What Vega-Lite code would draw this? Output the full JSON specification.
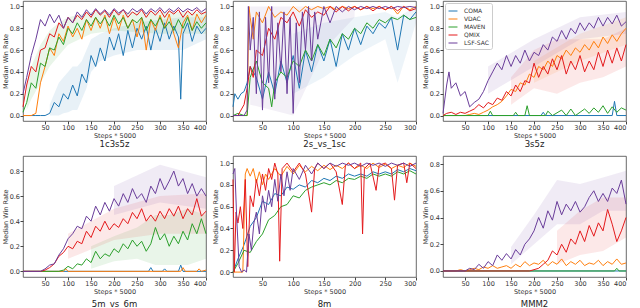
{
"$schema":"https://vega.github.io/schema/vega-lite/v6.json",
"padding":{"left":1,"top":0,"right":2,"bottom":0},
"config":{"font":"DejaVu Sans","view":{"stroke":"#444","strokeWidth":0.8},
"axis":{"labelFontSize":6.5,"titleFontSize":6.5,"labelColor":"#333","titleColor":"#333","tickSize":3,"tickColor":"#444","domain":false,"grid":false,"titleFontWeight":"normal","labelPadding":0.5,"titlePadding":1},
"title":{"fontSize":8.5,"fontWeight":"normal","color":"#222"},
"line":{"strokeWidth":1,"clip":true},"area":{"clip":true,"opacity":0.1}},
"columns":3,
"spacing":{"column":2,"row":6},
"resolve":{"legend":{"color":"independent"}},
"datasets":{
"b1":[
{"s":"COMA","x":60,"y":0,"hi":0.1},{"s":"COMA","x":70,"y":0,"hi":0.2},{"s":"COMA","x":80,"y":0,"hi":0.3},{"s":"COMA","x":90,"y":0.02,"hi":0.35},{"s":"COMA","x":100,"y":0.03,"hi":0.4},{"s":"COMA","x":110,"y":0.05,"hi":0.45},{"s":"COMA","x":120,"y":0.05,"hi":0.45},{"s":"COMA","x":130,"y":0.15,"hi":0.5},{"s":"COMA","x":140,"y":0.25,"hi":0.6},{"s":"COMA","x":150,"y":0.4,"hi":0.7},{"s":"COMA","x":170,"y":0.5,"hi":0.75},{"s":"COMA","x":200,"y":0.55,"hi":0.8},{"s":"COMA","x":250,"y":0.6,"hi":0.85},{"s":"COMA","x":300,"y":0.6,"hi":0.88},{"s":"COMA","x":350,"y":0.6,"hi":0.9},{"s":"COMA","x":400,"y":0.7,"hi":0.9},
{"s":"MAVEN","x":10,"y":0.05,"hi":0.3},{"s":"MAVEN","x":20,"y":0.15,"hi":0.45},{"s":"MAVEN","x":40,"y":0.3,"hi":0.65},{"s":"MAVEN","x":60,"y":0.45,"hi":0.78},{"s":"MAVEN","x":80,"y":0.55,"hi":0.85},{"s":"MAVEN","x":100,"y":0.65,"hi":0.9},{"s":"MAVEN","x":150,"y":0.75,"hi":0.95},{"s":"MAVEN","x":200,"y":0.78,"hi":0.95},{"s":"MAVEN","x":300,"y":0.75,"hi":0.95},{"s":"MAVEN","x":400,"y":0.75,"hi":0.95}
],
"b2":[
{"s":"COMA","x":100,"y":0.2,"hi":0.75},{"s":"COMA","x":150,"y":0.35,"hi":0.85},{"s":"COMA","x":200,"y":0.55,"hi":0.9},{"s":"COMA","x":250,"y":0.7,"hi":0.95},{"s":"COMA","x":270,"y":0.3,"hi":0.9},{"s":"COMA","x":300,"y":0.85,"hi":1.0},
{"s":"LSF-SAC","x":30,"y":0.1,"hi":1.0},{"s":"LSF-SAC","x":100,"y":0.0,"hi":1.0},{"s":"LSF-SAC","x":150,"y":0.6,"hi":1.0},{"s":"LSF-SAC","x":200,"y":0.9,"hi":1.0}
],
"b3":[
{"s":"VDAC","x":200,"y":0.3,"hi":0.5},{"s":"VDAC","x":300,"y":0.5,"hi":0.75},{"s":"VDAC","x":400,"y":0.65,"hi":0.9},
{"s":"QMIX","x":150,"y":0.1,"hi":0.35},{"s":"QMIX","x":200,"y":0.25,"hi":0.6},{"s":"QMIX","x":250,"y":0.2,"hi":0.7},{"s":"QMIX","x":300,"y":0.3,"hi":0.7},{"s":"QMIX","x":350,"y":0.35,"hi":0.7},{"s":"QMIX","x":400,"y":0.45,"hi":0.8},
{"s":"LSF-SAC","x":100,"y":0.2,"hi":0.45},{"s":"LSF-SAC","x":200,"y":0.45,"hi":0.7},{"s":"LSF-SAC","x":300,"y":0.7,"hi":0.9},{"s":"LSF-SAC","x":400,"y":0.75,"hi":0.95}
],
"b4":[
{"s":"MAVEN","x":150,"y":0.02,"hi":0.2},{"s":"MAVEN","x":200,"y":0.08,"hi":0.28},{"s":"MAVEN","x":250,"y":0.1,"hi":0.35},{"s":"MAVEN","x":290,"y":0.05,"hi":0.45},{"s":"MAVEN","x":320,"y":0.05,"hi":0.45},{"s":"MAVEN","x":360,"y":0.05,"hi":0.5},{"s":"MAVEN","x":400,"y":0.1,"hi":0.45},
{"s":"QMIX","x":100,"y":0.1,"hi":0.3},{"s":"QMIX","x":200,"y":0.25,"hi":0.5},{"s":"QMIX","x":300,"y":0.3,"hi":0.6},{"s":"QMIX","x":400,"y":0.3,"hi":0.62},
{"s":"LSF-SAC","x":200,"y":0.45,"hi":0.68},{"s":"LSF-SAC","x":300,"y":0.55,"hi":0.85},{"s":"LSF-SAC","x":400,"y":0.5,"hi":0.75}
],
"b6":[
{"s":"QMIX","x":250,"y":0.05,"hi":0.3},{"s":"QMIX","x":300,"y":0.12,"hi":0.45},{"s":"QMIX","x":350,"y":0.15,"hi":0.55},{"s":"QMIX","x":400,"y":0.25,"hi":0.55},
{"s":"LSF-SAC","x":150,"y":0.05,"hi":0.18},{"s":"LSF-SAC","x":200,"y":0.2,"hi":0.42},{"s":"LSF-SAC","x":250,"y":0.35,"hi":0.68},{"s":"LSF-SAC","x":300,"y":0.35,"hi":0.65},{"s":"LSF-SAC","x":350,"y":0.45,"hi":0.7},{"s":"LSF-SAC","x":400,"y":0.45,"hi":0.75}
],
"p1":[
{"s":"COMA","x":2,"y":0},{"s":"COMA","x":10,"y":0},{"s":"COMA","x":20,"y":0},{"s":"COMA","x":30,"y":0},{"s":"COMA","x":40,"y":0},{"s":"COMA","x":50,"y":0},{"s":"COMA","x":60,"y":0.02},{"s":"COMA","x":70,"y":0.12},{"s":"COMA","x":80,"y":0.08},{"s":"COMA","x":90,"y":0.2},{"s":"COMA","x":100,"y":0.15},{"s":"COMA","x":110,"y":0.28},{"s":"COMA","x":120,"y":0.18},{"s":"COMA","x":130,"y":0.38},{"s":"COMA","x":140,"y":0.3},{"s":"COMA","x":150,"y":0.55},{"s":"COMA","x":160,"y":0.45},{"s":"COMA","x":170,"y":0.62},{"s":"COMA","x":180,"y":0.5},{"s":"COMA","x":190,"y":0.72},{"s":"COMA","x":200,"y":0.6},{"s":"COMA","x":210,"y":0.75},{"s":"COMA","x":220,"y":0.55},{"s":"COMA","x":230,"y":0.78},{"s":"COMA","x":240,"y":0.62},{"s":"COMA","x":250,"y":0.8},{"s":"COMA","x":260,"y":0.7},{"s":"COMA","x":270,"y":0.82},{"s":"COMA","x":280,"y":0.6},{"s":"COMA","x":290,"y":0.8},{"s":"COMA","x":300,"y":0.68},{"s":"COMA","x":310,"y":0.85},{"s":"COMA","x":320,"y":0.7},{"s":"COMA","x":330,"y":0.82},{"s":"COMA","x":340,"y":0.72},{"s":"COMA","x":345,"y":0.15},{"s":"COMA","x":350,"y":0.75},{"s":"COMA","x":360,"y":0.85},{"s":"COMA","x":370,"y":0.68},{"s":"COMA","x":380,"y":0.82},{"s":"COMA","x":390,"y":0.75},{"s":"COMA","x":400,"y":0.8},
{"s":"VDAC","x":2,"y":0},{"s":"VDAC","x":10,"y":0},{"s":"VDAC","x":20,"y":0},{"s":"VDAC","x":30,"y":0.02},{"s":"VDAC","x":40,"y":0.3},{"s":"VDAC","x":50,"y":0.45},{"s":"VDAC","x":60,"y":0.62},{"s":"VDAC","x":70,"y":0.55},{"s":"VDAC","x":80,"y":0.75},{"s":"VDAC","x":90,"y":0.68},{"s":"VDAC","x":100,"y":0.82},{"s":"VDAC","x":110,"y":0.72},{"s":"VDAC","x":120,"y":0.8},{"s":"VDAC","x":130,"y":0.7},{"s":"VDAC","x":140,"y":0.88},{"s":"VDAC","x":150,"y":0.78},{"s":"VDAC","x":160,"y":0.9},{"s":"VDAC","x":170,"y":0.8},{"s":"VDAC","x":180,"y":0.92},{"s":"VDAC","x":190,"y":0.75},{"s":"VDAC","x":200,"y":0.9},{"s":"VDAC","x":210,"y":0.78},{"s":"VDAC","x":220,"y":0.92},{"s":"VDAC","x":230,"y":0.8},{"s":"VDAC","x":240,"y":0.88},{"s":"VDAC","x":250,"y":0.72},{"s":"VDAC","x":260,"y":0.9},{"s":"VDAC","x":270,"y":0.6},{"s":"VDAC","x":280,"y":0.88},{"s":"VDAC","x":290,"y":0.78},{"s":"VDAC","x":300,"y":0.92},{"s":"VDAC","x":310,"y":0.8},{"s":"VDAC","x":320,"y":0.93},{"s":"VDAC","x":330,"y":0.75},{"s":"VDAC","x":340,"y":0.62},{"s":"VDAC","x":350,"y":0.85},{"s":"VDAC","x":360,"y":0.92},{"s":"VDAC","x":370,"y":0.78},{"s":"VDAC","x":380,"y":0.93},{"s":"VDAC","x":390,"y":0.85},{"s":"VDAC","x":400,"y":0.92},
{"s":"MAVEN","x":2,"y":0.03},{"s":"MAVEN","x":10,"y":0.12},{"s":"MAVEN","x":20,"y":0.3},{"s":"MAVEN","x":30,"y":0.25},{"s":"MAVEN","x":40,"y":0.48},{"s":"MAVEN","x":50,"y":0.45},{"s":"MAVEN","x":60,"y":0.62},{"s":"MAVEN","x":70,"y":0.6},{"s":"MAVEN","x":80,"y":0.72},{"s":"MAVEN","x":90,"y":0.65},{"s":"MAVEN","x":100,"y":0.8},{"s":"MAVEN","x":110,"y":0.75},{"s":"MAVEN","x":120,"y":0.85},{"s":"MAVEN","x":130,"y":0.78},{"s":"MAVEN","x":140,"y":0.88},{"s":"MAVEN","x":150,"y":0.82},{"s":"MAVEN","x":160,"y":0.9},{"s":"MAVEN","x":170,"y":0.84},{"s":"MAVEN","x":180,"y":0.9},{"s":"MAVEN","x":190,"y":0.82},{"s":"MAVEN","x":200,"y":0.92},{"s":"MAVEN","x":210,"y":0.84},{"s":"MAVEN","x":220,"y":0.9},{"s":"MAVEN","x":230,"y":0.8},{"s":"MAVEN","x":240,"y":0.88},{"s":"MAVEN","x":250,"y":0.85},{"s":"MAVEN","x":260,"y":0.9},{"s":"MAVEN","x":270,"y":0.78},{"s":"MAVEN","x":280,"y":0.88},{"s":"MAVEN","x":290,"y":0.82},{"s":"MAVEN","x":300,"y":0.9},{"s":"MAVEN","x":310,"y":0.8},{"s":"MAVEN","x":320,"y":0.86},{"s":"MAVEN","x":330,"y":0.78},{"s":"MAVEN","x":340,"y":0.88},{"s":"MAVEN","x":350,"y":0.8},{"s":"MAVEN","x":360,"y":0.9},{"s":"MAVEN","x":370,"y":0.78},{"s":"MAVEN","x":380,"y":0.86},{"s":"MAVEN","x":390,"y":0.8},{"s":"MAVEN","x":400,"y":0.85},
{"s":"QMIX","x":2,"y":0.08},{"s":"QMIX","x":10,"y":0.28},{"s":"QMIX","x":20,"y":0.45},{"s":"QMIX","x":30,"y":0.4},{"s":"QMIX","x":40,"y":0.6},{"s":"QMIX","x":50,"y":0.62},{"s":"QMIX","x":60,"y":0.75},{"s":"QMIX","x":70,"y":0.72},{"s":"QMIX","x":80,"y":0.85},{"s":"QMIX","x":90,"y":0.8},{"s":"QMIX","x":100,"y":0.9},{"s":"QMIX","x":110,"y":0.85},{"s":"QMIX","x":120,"y":0.92},{"s":"QMIX","x":130,"y":0.88},{"s":"QMIX","x":140,"y":0.95},{"s":"QMIX","x":150,"y":0.9},{"s":"QMIX","x":160,"y":0.97},{"s":"QMIX","x":170,"y":0.92},{"s":"QMIX","x":180,"y":0.96},{"s":"QMIX","x":190,"y":0.9},{"s":"QMIX","x":200,"y":0.97},{"s":"QMIX","x":210,"y":0.92},{"s":"QMIX","x":220,"y":0.97},{"s":"QMIX","x":230,"y":0.9},{"s":"QMIX","x":240,"y":0.95},{"s":"QMIX","x":250,"y":0.92},{"s":"QMIX","x":260,"y":0.97},{"s":"QMIX","x":270,"y":0.9},{"s":"QMIX","x":280,"y":0.96},{"s":"QMIX","x":290,"y":0.92},{"s":"QMIX","x":300,"y":0.97},{"s":"QMIX","x":310,"y":0.9},{"s":"QMIX","x":320,"y":0.96},{"s":"QMIX","x":330,"y":0.93},{"s":"QMIX","x":340,"y":0.97},{"s":"QMIX","x":350,"y":0.9},{"s":"QMIX","x":360,"y":0.96},{"s":"QMIX","x":370,"y":0.92},{"s":"QMIX","x":380,"y":0.97},{"s":"QMIX","x":390,"y":0.93},{"s":"QMIX","x":400,"y":0.95},
{"s":"LSF-SAC","x":2,"y":0.2},{"s":"LSF-SAC","x":10,"y":0.35},{"s":"LSF-SAC","x":20,"y":0.55},{"s":"LSF-SAC","x":30,"y":0.7},{"s":"LSF-SAC","x":40,"y":0.88},{"s":"LSF-SAC","x":50,"y":0.82},{"s":"LSF-SAC","x":60,"y":0.93},{"s":"LSF-SAC","x":70,"y":0.85},{"s":"LSF-SAC","x":80,"y":0.92},{"s":"LSF-SAC","x":90,"y":0.8},{"s":"LSF-SAC","x":100,"y":0.9},{"s":"LSF-SAC","x":110,"y":0.85},{"s":"LSF-SAC","x":120,"y":0.95},{"s":"LSF-SAC","x":130,"y":0.9},{"s":"LSF-SAC","x":140,"y":0.97},{"s":"LSF-SAC","x":150,"y":0.92},{"s":"LSF-SAC","x":160,"y":0.98},{"s":"LSF-SAC","x":170,"y":0.93},{"s":"LSF-SAC","x":180,"y":0.97},{"s":"LSF-SAC","x":190,"y":0.92},{"s":"LSF-SAC","x":200,"y":0.98},{"s":"LSF-SAC","x":210,"y":0.94},{"s":"LSF-SAC","x":220,"y":0.97},{"s":"LSF-SAC","x":230,"y":0.93},{"s":"LSF-SAC","x":240,"y":0.98},{"s":"LSF-SAC","x":250,"y":0.95},{"s":"LSF-SAC","x":260,"y":0.98},{"s":"LSF-SAC","x":270,"y":0.93},{"s":"LSF-SAC","x":280,"y":0.98},{"s":"LSF-SAC","x":290,"y":0.95},{"s":"LSF-SAC","x":300,"y":0.99},{"s":"LSF-SAC","x":310,"y":0.94},{"s":"LSF-SAC","x":320,"y":0.98},{"s":"LSF-SAC","x":330,"y":0.95},{"s":"LSF-SAC","x":340,"y":0.99},{"s":"LSF-SAC","x":350,"y":0.95},{"s":"LSF-SAC","x":360,"y":0.98},{"s":"LSF-SAC","x":370,"y":0.96},{"s":"LSF-SAC","x":380,"y":0.99},{"s":"LSF-SAC","x":390,"y":0.95},{"s":"LSF-SAC","x":400,"y":0.98}
],
"p2":[
{"s":"COMA","x":2,"y":0.08},{"s":"COMA","x":5,"y":0.2},{"s":"COMA","x":10,"y":0.15},{"s":"COMA","x":15,"y":0.2},{"s":"COMA","x":20,"y":0.22},{"s":"COMA","x":25,"y":0.3},{"s":"COMA","x":30,"y":0.45},{"s":"COMA","x":40,"y":0.35},{"s":"COMA","x":50,"y":0.15},{"s":"COMA","x":60,"y":0.4},{"s":"COMA","x":70,"y":0.2},{"s":"COMA","x":80,"y":0.5},{"s":"COMA","x":90,"y":0.3},{"s":"COMA","x":100,"y":0.55},{"s":"COMA","x":110,"y":0.25},{"s":"COMA","x":120,"y":0.6},{"s":"COMA","x":130,"y":0.4},{"s":"COMA","x":140,"y":0.65},{"s":"COMA","x":150,"y":0.5},{"s":"COMA","x":160,"y":0.7},{"s":"COMA","x":170,"y":0.45},{"s":"COMA","x":180,"y":0.75},{"s":"COMA","x":190,"y":0.6},{"s":"COMA","x":200,"y":0.8},{"s":"COMA","x":210,"y":0.65},{"s":"COMA","x":220,"y":0.82},{"s":"COMA","x":230,"y":0.75},{"s":"COMA","x":240,"y":0.85},{"s":"COMA","x":250,"y":0.8},{"s":"COMA","x":260,"y":0.9},{"s":"COMA","x":270,"y":0.6},{"s":"COMA","x":280,"y":0.92},{"s":"COMA","x":290,"y":0.88},{"s":"COMA","x":300,"y":0.95},
{"s":"VDAC","x":2,"y":0},{"s":"VDAC","x":10,"y":0},{"s":"VDAC","x":20,"y":0},{"s":"VDAC","x":25,"y":0},{"s":"VDAC","x":28,"y":1.0},{"s":"VDAC","x":30,"y":0.9},{"s":"VDAC","x":35,"y":0.7},{"s":"VDAC","x":40,"y":0.95},{"s":"VDAC","x":50,"y":0.85},{"s":"VDAC","x":60,"y":1.0},{"s":"VDAC","x":70,"y":0.9},{"s":"VDAC","x":80,"y":0.95},{"s":"VDAC","x":90,"y":0.92},{"s":"VDAC","x":100,"y":1.0},{"s":"VDAC","x":110,"y":0.95},{"s":"VDAC","x":120,"y":1.0},{"s":"VDAC","x":130,"y":0.97},{"s":"VDAC","x":140,"y":1.0},{"s":"VDAC","x":150,"y":0.98},{"s":"VDAC","x":160,"y":1.0},{"s":"VDAC","x":170,"y":0.97},{"s":"VDAC","x":180,"y":1.0},{"s":"VDAC","x":190,"y":0.98},{"s":"VDAC","x":200,"y":1.0},{"s":"VDAC","x":210,"y":0.97},{"s":"VDAC","x":220,"y":1.0},{"s":"VDAC","x":230,"y":0.98},{"s":"VDAC","x":240,"y":1.0},{"s":"VDAC","x":250,"y":0.97},{"s":"VDAC","x":260,"y":1.0},{"s":"VDAC","x":270,"y":0.93},{"s":"VDAC","x":280,"y":1.0},{"s":"VDAC","x":290,"y":0.97},{"s":"VDAC","x":300,"y":1.0},
{"s":"MAVEN","x":2,"y":0},{"s":"MAVEN","x":10,"y":0.02},{"s":"MAVEN","x":20,"y":0},{"s":"MAVEN","x":25,"y":0},{"s":"MAVEN","x":30,"y":0.35},{"s":"MAVEN","x":40,"y":0.5},{"s":"MAVEN","x":50,"y":0.3},{"s":"MAVEN","x":60,"y":0.25},{"s":"MAVEN","x":65,"y":0.08},{"s":"MAVEN","x":70,"y":0.3},{"s":"MAVEN","x":80,"y":0.4},{"s":"MAVEN","x":90,"y":0.35},{"s":"MAVEN","x":100,"y":0.5},{"s":"MAVEN","x":110,"y":0.45},{"s":"MAVEN","x":120,"y":0.6},{"s":"MAVEN","x":130,"y":0.5},{"s":"MAVEN","x":140,"y":0.65},{"s":"MAVEN","x":150,"y":0.55},{"s":"MAVEN","x":160,"y":0.7},{"s":"MAVEN","x":170,"y":0.62},{"s":"MAVEN","x":180,"y":0.75},{"s":"MAVEN","x":190,"y":0.7},{"s":"MAVEN","x":200,"y":0.8},{"s":"MAVEN","x":210,"y":0.75},{"s":"MAVEN","x":220,"y":0.85},{"s":"MAVEN","x":230,"y":0.8},{"s":"MAVEN","x":240,"y":0.88},{"s":"MAVEN","x":250,"y":0.85},{"s":"MAVEN","x":260,"y":0.9},{"s":"MAVEN","x":270,"y":0.88},{"s":"MAVEN","x":280,"y":0.92},{"s":"MAVEN","x":290,"y":0.88},{"s":"MAVEN","x":300,"y":0.9},
{"s":"QMIX","x":2,"y":0},{"s":"QMIX","x":10,"y":0},{"s":"QMIX","x":20,"y":0.1},{"s":"QMIX","x":25,"y":0.25},{"s":"QMIX","x":30,"y":0.45},{"s":"QMIX","x":35,"y":0.35},{"s":"QMIX","x":40,"y":0.6},{"s":"QMIX","x":50,"y":0.55},{"s":"QMIX","x":60,"y":0.8},{"s":"QMIX","x":70,"y":0.7},{"s":"QMIX","x":80,"y":0.9},{"s":"QMIX","x":90,"y":0.85},{"s":"QMIX","x":100,"y":0.95},{"s":"QMIX","x":110,"y":0.82},{"s":"QMIX","x":120,"y":0.97},{"s":"QMIX","x":130,"y":0.9},{"s":"QMIX","x":140,"y":0.95},{"s":"QMIX","x":150,"y":0.92},{"s":"QMIX","x":160,"y":1.0},{"s":"QMIX","x":170,"y":0.95},{"s":"QMIX","x":180,"y":1.0},{"s":"QMIX","x":190,"y":0.96},{"s":"QMIX","x":200,"y":1.0},{"s":"QMIX","x":210,"y":0.97},{"s":"QMIX","x":220,"y":1.0},{"s":"QMIX","x":230,"y":0.96},{"s":"QMIX","x":240,"y":1.0},{"s":"QMIX","x":250,"y":0.97},{"s":"QMIX","x":260,"y":1.0},{"s":"QMIX","x":270,"y":0.96},{"s":"QMIX","x":280,"y":1.0},{"s":"QMIX","x":290,"y":0.96},{"s":"QMIX","x":300,"y":0.98},
{"s":"LSF-SAC","x":2,"y":0},{"s":"LSF-SAC","x":10,"y":0},{"s":"LSF-SAC","x":20,"y":0},{"s":"LSF-SAC","x":25,"y":0.05},{"s":"LSF-SAC","x":27,"y":1.0},{"s":"LSF-SAC","x":30,"y":0.6},{"s":"LSF-SAC","x":35,"y":0.9},{"s":"LSF-SAC","x":40,"y":0.2},{"s":"LSF-SAC","x":45,"y":0.95},{"s":"LSF-SAC","x":50,"y":0.05},{"s":"LSF-SAC","x":55,"y":0.9},{"s":"LSF-SAC","x":60,"y":0.3},{"s":"LSF-SAC","x":65,"y":1.0},{"s":"LSF-SAC","x":70,"y":0.15},{"s":"LSF-SAC","x":75,"y":0.85},{"s":"LSF-SAC","x":80,"y":0.4},{"s":"LSF-SAC","x":85,"y":0.95},{"s":"LSF-SAC","x":90,"y":0.2},{"s":"LSF-SAC","x":95,"y":0.9},{"s":"LSF-SAC","x":100,"y":0.02},{"s":"LSF-SAC","x":105,"y":0.85},{"s":"LSF-SAC","x":110,"y":0.3},{"s":"LSF-SAC","x":115,"y":0.95},{"s":"LSF-SAC","x":120,"y":0.6},{"s":"LSF-SAC","x":125,"y":1.0},{"s":"LSF-SAC","x":130,"y":0.5},{"s":"LSF-SAC","x":135,"y":0.95},{"s":"LSF-SAC","x":140,"y":0.7},{"s":"LSF-SAC","x":150,"y":1.0},{"s":"LSF-SAC","x":160,"y":0.85},{"s":"LSF-SAC","x":170,"y":1.0},{"s":"LSF-SAC","x":180,"y":0.95},{"s":"LSF-SAC","x":190,"y":1.0},{"s":"LSF-SAC","x":200,"y":0.97},{"s":"LSF-SAC","x":210,"y":1.0},{"s":"LSF-SAC","x":220,"y":0.98},{"s":"LSF-SAC","x":230,"y":1.0},{"s":"LSF-SAC","x":240,"y":0.98},{"s":"LSF-SAC","x":250,"y":1.0},{"s":"LSF-SAC","x":260,"y":0.98},{"s":"LSF-SAC","x":270,"y":1.0},{"s":"LSF-SAC","x":280,"y":0.99},{"s":"LSF-SAC","x":290,"y":1.0},{"s":"LSF-SAC","x":300,"y":0.99}
],
"p3":[
{"s":"COMA","x":2,"y":0},{"s":"COMA","x":100,"y":0},{"s":"COMA","x":215,"y":0},{"s":"COMA","x":220,"y":0.03},{"s":"COMA","x":225,"y":0},{"s":"COMA","x":370,"y":0},{"s":"COMA","x":375,"y":0.13},{"s":"COMA","x":380,"y":0},{"s":"COMA","x":400,"y":0},
{"s":"VDAC","x":2,"y":0},{"s":"VDAC","x":10,"y":0},{"s":"VDAC","x":20,"y":0},{"s":"VDAC","x":30,"y":0},{"s":"VDAC","x":40,"y":0},{"s":"VDAC","x":50,"y":0},{"s":"VDAC","x":60,"y":0.01},{"s":"VDAC","x":70,"y":0.02},{"s":"VDAC","x":80,"y":0.01},{"s":"VDAC","x":90,"y":0.03},{"s":"VDAC","x":100,"y":0.05},{"s":"VDAC","x":110,"y":0.08},{"s":"VDAC","x":120,"y":0.1},{"s":"VDAC","x":130,"y":0.13},{"s":"VDAC","x":140,"y":0.18},{"s":"VDAC","x":150,"y":0.24},{"s":"VDAC","x":160,"y":0.22},{"s":"VDAC","x":170,"y":0.3},{"s":"VDAC","x":180,"y":0.28},{"s":"VDAC","x":190,"y":0.38},{"s":"VDAC","x":200,"y":0.35},{"s":"VDAC","x":210,"y":0.45},{"s":"VDAC","x":220,"y":0.42},{"s":"VDAC","x":230,"y":0.5},{"s":"VDAC","x":240,"y":0.45},{"s":"VDAC","x":250,"y":0.55},{"s":"VDAC","x":260,"y":0.52},{"s":"VDAC","x":270,"y":0.6},{"s":"VDAC","x":280,"y":0.55},{"s":"VDAC","x":290,"y":0.62},{"s":"VDAC","x":300,"y":0.58},{"s":"VDAC","x":310,"y":0.65},{"s":"VDAC","x":320,"y":0.6},{"s":"VDAC","x":330,"y":0.68},{"s":"VDAC","x":340,"y":0.62},{"s":"VDAC","x":350,"y":0.72},{"s":"VDAC","x":360,"y":0.66},{"s":"VDAC","x":370,"y":0.74},{"s":"VDAC","x":380,"y":0.68},{"s":"VDAC","x":390,"y":0.75},{"s":"VDAC","x":400,"y":0.8},
{"s":"MAVEN","x":2,"y":0},{"s":"MAVEN","x":100,"y":0},{"s":"MAVEN","x":105,"y":0.04},{"s":"MAVEN","x":110,"y":0},{"s":"MAVEN","x":155,"y":0},{"s":"MAVEN","x":160,"y":0.03},{"s":"MAVEN","x":165,"y":0},{"s":"MAVEN","x":180,"y":0},{"s":"MAVEN","x":185,"y":0.09},{"s":"MAVEN","x":190,"y":0},{"s":"MAVEN","x":225,"y":0},{"s":"MAVEN","x":230,"y":0.04},{"s":"MAVEN","x":240,"y":0},{"s":"MAVEN","x":260,"y":0.05},{"s":"MAVEN","x":270,"y":0},{"s":"MAVEN","x":280,"y":0.06},{"s":"MAVEN","x":290,"y":0},{"s":"MAVEN","x":300,"y":0.03},{"s":"MAVEN","x":310,"y":0.06},{"s":"MAVEN","x":320,"y":0.02},{"s":"MAVEN","x":330,"y":0.07},{"s":"MAVEN","x":340,"y":0.03},{"s":"MAVEN","x":350,"y":0.09},{"s":"MAVEN","x":360,"y":0.02},{"s":"MAVEN","x":370,"y":0.08},{"s":"MAVEN","x":380,"y":0.03},{"s":"MAVEN","x":390,"y":0.07},{"s":"MAVEN","x":400,"y":0.05},
{"s":"QMIX","x":2,"y":0},{"s":"QMIX","x":10,"y":0.02},{"s":"QMIX","x":20,"y":0.03},{"s":"QMIX","x":30,"y":0.01},{"s":"QMIX","x":40,"y":0.03},{"s":"QMIX","x":50,"y":0.02},{"s":"QMIX","x":60,"y":0.04},{"s":"QMIX","x":70,"y":0.06},{"s":"QMIX","x":80,"y":0.1},{"s":"QMIX","x":90,"y":0.07},{"s":"QMIX","x":100,"y":0.12},{"s":"QMIX","x":110,"y":0.1},{"s":"QMIX","x":120,"y":0.16},{"s":"QMIX","x":130,"y":0.14},{"s":"QMIX","x":140,"y":0.22},{"s":"QMIX","x":150,"y":0.18},{"s":"QMIX","x":160,"y":0.28},{"s":"QMIX","x":170,"y":0.22},{"s":"QMIX","x":180,"y":0.32},{"s":"QMIX","x":190,"y":0.3},{"s":"QMIX","x":200,"y":0.48},{"s":"QMIX","x":210,"y":0.35},{"s":"QMIX","x":220,"y":0.45},{"s":"QMIX","x":230,"y":0.38},{"s":"QMIX","x":240,"y":0.52},{"s":"QMIX","x":250,"y":0.42},{"s":"QMIX","x":260,"y":0.55},{"s":"QMIX","x":270,"y":0.38},{"s":"QMIX","x":280,"y":0.5},{"s":"QMIX","x":290,"y":0.42},{"s":"QMIX","x":300,"y":0.55},{"s":"QMIX","x":310,"y":0.4},{"s":"QMIX","x":320,"y":0.5},{"s":"QMIX","x":330,"y":0.42},{"s":"QMIX","x":340,"y":0.58},{"s":"QMIX","x":350,"y":0.45},{"s":"QMIX","x":360,"y":0.6},{"s":"QMIX","x":370,"y":0.48},{"s":"QMIX","x":380,"y":0.62},{"s":"QMIX","x":390,"y":0.5},{"s":"QMIX","x":400,"y":0.65},
{"s":"LSF-SAC","x":2,"y":0.02},{"s":"LSF-SAC","x":10,"y":0.28},{"s":"LSF-SAC","x":15,"y":0.4},{"s":"LSF-SAC","x":20,"y":0.25},{"s":"LSF-SAC","x":30,"y":0.3},{"s":"LSF-SAC","x":40,"y":0.18},{"s":"LSF-SAC","x":50,"y":0.22},{"s":"LSF-SAC","x":60,"y":0.08},{"s":"LSF-SAC","x":70,"y":0.12},{"s":"LSF-SAC","x":80,"y":0.15},{"s":"LSF-SAC","x":90,"y":0.22},{"s":"LSF-SAC","x":100,"y":0.32},{"s":"LSF-SAC","x":110,"y":0.4},{"s":"LSF-SAC","x":120,"y":0.48},{"s":"LSF-SAC","x":130,"y":0.42},{"s":"LSF-SAC","x":140,"y":0.55},{"s":"LSF-SAC","x":150,"y":0.45},{"s":"LSF-SAC","x":160,"y":0.55},{"s":"LSF-SAC","x":170,"y":0.48},{"s":"LSF-SAC","x":180,"y":0.6},{"s":"LSF-SAC","x":190,"y":0.5},{"s":"LSF-SAC","x":200,"y":0.58},{"s":"LSF-SAC","x":210,"y":0.55},{"s":"LSF-SAC","x":220,"y":0.65},{"s":"LSF-SAC","x":230,"y":0.6},{"s":"LSF-SAC","x":240,"y":0.72},{"s":"LSF-SAC","x":250,"y":0.68},{"s":"LSF-SAC","x":260,"y":0.78},{"s":"LSF-SAC","x":270,"y":0.7},{"s":"LSF-SAC","x":280,"y":0.8},{"s":"LSF-SAC","x":290,"y":0.75},{"s":"LSF-SAC","x":300,"y":0.85},{"s":"LSF-SAC","x":310,"y":0.78},{"s":"LSF-SAC","x":320,"y":0.85},{"s":"LSF-SAC","x":330,"y":0.8},{"s":"LSF-SAC","x":340,"y":0.9},{"s":"LSF-SAC","x":350,"y":0.82},{"s":"LSF-SAC","x":360,"y":0.9},{"s":"LSF-SAC","x":370,"y":0.84},{"s":"LSF-SAC","x":380,"y":0.92},{"s":"LSF-SAC","x":390,"y":0.82},{"s":"LSF-SAC","x":400,"y":0.86}
],
"p4":[
{"s":"COMA","x":2,"y":0},{"s":"COMA","x":275,"y":0},{"s":"COMA","x":280,"y":0.03},{"s":"COMA","x":285,"y":0},{"s":"COMA","x":305,"y":0},{"s":"COMA","x":310,"y":0.02},{"s":"COMA","x":315,"y":0},{"s":"COMA","x":340,"y":0},{"s":"COMA","x":345,"y":0.05},{"s":"COMA","x":350,"y":0},{"s":"COMA","x":400,"y":0},
{"s":"VDAC","x":2,"y":0},{"s":"VDAC","x":90,"y":0},{"s":"VDAC","x":95,"y":0.02},{"s":"VDAC","x":100,"y":0},{"s":"VDAC","x":345,"y":0},{"s":"VDAC","x":350,"y":0.03},{"s":"VDAC","x":355,"y":0},{"s":"VDAC","x":380,"y":0},{"s":"VDAC","x":385,"y":0.02},{"s":"VDAC","x":390,"y":0},{"s":"VDAC","x":400,"y":0.01},
{"s":"MAVEN","x":2,"y":0},{"s":"MAVEN","x":80,"y":0},{"s":"MAVEN","x":90,"y":0.01},{"s":"MAVEN","x":100,"y":0.04},{"s":"MAVEN","x":110,"y":0.02},{"s":"MAVEN","x":120,"y":0.06},{"s":"MAVEN","x":130,"y":0.05},{"s":"MAVEN","x":140,"y":0.1},{"s":"MAVEN","x":150,"y":0.07},{"s":"MAVEN","x":160,"y":0.16},{"s":"MAVEN","x":170,"y":0.1},{"s":"MAVEN","x":180,"y":0.14},{"s":"MAVEN","x":190,"y":0.12},{"s":"MAVEN","x":200,"y":0.18},{"s":"MAVEN","x":210,"y":0.15},{"s":"MAVEN","x":220,"y":0.22},{"s":"MAVEN","x":230,"y":0.18},{"s":"MAVEN","x":240,"y":0.25},{"s":"MAVEN","x":250,"y":0.2},{"s":"MAVEN","x":260,"y":0.24},{"s":"MAVEN","x":270,"y":0.16},{"s":"MAVEN","x":280,"y":0.22},{"s":"MAVEN","x":290,"y":0.35},{"s":"MAVEN","x":300,"y":0.25},{"s":"MAVEN","x":310,"y":0.3},{"s":"MAVEN","x":320,"y":0.2},{"s":"MAVEN","x":330,"y":0.28},{"s":"MAVEN","x":340,"y":0.22},{"s":"MAVEN","x":350,"y":0.32},{"s":"MAVEN","x":360,"y":0.25},{"s":"MAVEN","x":370,"y":0.38},{"s":"MAVEN","x":380,"y":0.3},{"s":"MAVEN","x":390,"y":0.42},{"s":"MAVEN","x":400,"y":0.3},
{"s":"QMIX","x":2,"y":0},{"s":"QMIX","x":40,"y":0},{"s":"QMIX","x":50,"y":0.01},{"s":"QMIX","x":60,"y":0.03},{"s":"QMIX","x":70,"y":0.06},{"s":"QMIX","x":80,"y":0.12},{"s":"QMIX","x":90,"y":0.15},{"s":"QMIX","x":100,"y":0.2},{"s":"QMIX","x":110,"y":0.18},{"s":"QMIX","x":120,"y":0.24},{"s":"QMIX","x":130,"y":0.22},{"s":"QMIX","x":140,"y":0.32},{"s":"QMIX","x":150,"y":0.27},{"s":"QMIX","x":160,"y":0.36},{"s":"QMIX","x":170,"y":0.32},{"s":"QMIX","x":180,"y":0.4},{"s":"QMIX","x":190,"y":0.33},{"s":"QMIX","x":200,"y":0.38},{"s":"QMIX","x":210,"y":0.35},{"s":"QMIX","x":220,"y":0.42},{"s":"QMIX","x":230,"y":0.38},{"s":"QMIX","x":240,"y":0.47},{"s":"QMIX","x":250,"y":0.42},{"s":"QMIX","x":260,"y":0.5},{"s":"QMIX","x":270,"y":0.4},{"s":"QMIX","x":280,"y":0.45},{"s":"QMIX","x":290,"y":0.4},{"s":"QMIX","x":300,"y":0.48},{"s":"QMIX","x":310,"y":0.42},{"s":"QMIX","x":320,"y":0.5},{"s":"QMIX","x":330,"y":0.44},{"s":"QMIX","x":340,"y":0.52},{"s":"QMIX","x":350,"y":0.42},{"s":"QMIX","x":360,"y":0.5},{"s":"QMIX","x":370,"y":0.45},{"s":"QMIX","x":380,"y":0.58},{"s":"QMIX","x":390,"y":0.44},{"s":"QMIX","x":400,"y":0.48},
{"s":"LSF-SAC","x":2,"y":0},{"s":"LSF-SAC","x":40,"y":0},{"s":"LSF-SAC","x":50,"y":0.02},{"s":"LSF-SAC","x":60,"y":0.05},{"s":"LSF-SAC","x":70,"y":0.06},{"s":"LSF-SAC","x":80,"y":0.13},{"s":"LSF-SAC","x":90,"y":0.18},{"s":"LSF-SAC","x":100,"y":0.26},{"s":"LSF-SAC","x":110,"y":0.3},{"s":"LSF-SAC","x":120,"y":0.36},{"s":"LSF-SAC","x":130,"y":0.34},{"s":"LSF-SAC","x":140,"y":0.44},{"s":"LSF-SAC","x":150,"y":0.4},{"s":"LSF-SAC","x":160,"y":0.52},{"s":"LSF-SAC","x":170,"y":0.45},{"s":"LSF-SAC","x":180,"y":0.55},{"s":"LSF-SAC","x":190,"y":0.48},{"s":"LSF-SAC","x":200,"y":0.58},{"s":"LSF-SAC","x":210,"y":0.52},{"s":"LSF-SAC","x":220,"y":0.62},{"s":"LSF-SAC","x":230,"y":0.55},{"s":"LSF-SAC","x":240,"y":0.66},{"s":"LSF-SAC","x":250,"y":0.58},{"s":"LSF-SAC","x":260,"y":0.62},{"s":"LSF-SAC","x":270,"y":0.55},{"s":"LSF-SAC","x":280,"y":0.68},{"s":"LSF-SAC","x":290,"y":0.62},{"s":"LSF-SAC","x":300,"y":0.74},{"s":"LSF-SAC","x":310,"y":0.65},{"s":"LSF-SAC","x":320,"y":0.72},{"s":"LSF-SAC","x":330,"y":0.8},{"s":"LSF-SAC","x":340,"y":0.68},{"s":"LSF-SAC","x":350,"y":0.74},{"s":"LSF-SAC","x":360,"y":0.62},{"s":"LSF-SAC","x":370,"y":0.7},{"s":"LSF-SAC","x":380,"y":0.6},{"s":"LSF-SAC","x":390,"y":0.66},{"s":"LSF-SAC","x":400,"y":0.6}
],
"p5":[
{"s":"COMA","x":2,"y":0},{"s":"COMA","x":10,"y":0.12},{"s":"COMA","x":20,"y":0.25},{"s":"COMA","x":30,"y":0.42},{"s":"COMA","x":40,"y":0.5},{"s":"COMA","x":50,"y":0.65},{"s":"COMA","x":60,"y":0.62},{"s":"COMA","x":70,"y":0.72},{"s":"COMA","x":80,"y":0.7},{"s":"COMA","x":90,"y":0.78},{"s":"COMA","x":100,"y":0.76},{"s":"COMA","x":110,"y":0.8},{"s":"COMA","x":120,"y":0.78},{"s":"COMA","x":130,"y":0.84},{"s":"COMA","x":140,"y":0.82},{"s":"COMA","x":150,"y":0.86},{"s":"COMA","x":160,"y":0.84},{"s":"COMA","x":170,"y":0.88},{"s":"COMA","x":180,"y":0.86},{"s":"COMA","x":190,"y":0.9},{"s":"COMA","x":200,"y":0.88},{"s":"COMA","x":210,"y":0.9},{"s":"COMA","x":220,"y":0.88},{"s":"COMA","x":230,"y":0.92},{"s":"COMA","x":240,"y":0.9},{"s":"COMA","x":250,"y":0.92},{"s":"COMA","x":260,"y":0.9},{"s":"COMA","x":270,"y":0.94},{"s":"COMA","x":280,"y":0.92},{"s":"COMA","x":290,"y":0.95},{"s":"COMA","x":300,"y":0.93},
{"s":"VDAC","x":2,"y":0},{"s":"VDAC","x":10,"y":0},{"s":"VDAC","x":18,"y":0},{"s":"VDAC","x":22,"y":0.9},{"s":"VDAC","x":25,"y":0.95},{"s":"VDAC","x":30,"y":0.88},{"s":"VDAC","x":35,"y":0.95},{"s":"VDAC","x":40,"y":0.82},{"s":"VDAC","x":45,"y":0.92},{"s":"VDAC","x":50,"y":0.8},{"s":"VDAC","x":55,"y":0.9},{"s":"VDAC","x":60,"y":0.85},{"s":"VDAC","x":70,"y":0.95},{"s":"VDAC","x":80,"y":0.88},{"s":"VDAC","x":90,"y":0.97},{"s":"VDAC","x":100,"y":0.9},{"s":"VDAC","x":110,"y":0.98},{"s":"VDAC","x":120,"y":0.92},{"s":"VDAC","x":130,"y":0.97},{"s":"VDAC","x":140,"y":0.93},{"s":"VDAC","x":150,"y":0.98},{"s":"VDAC","x":160,"y":0.94},{"s":"VDAC","x":170,"y":0.98},{"s":"VDAC","x":180,"y":0.95},{"s":"VDAC","x":190,"y":1.0},{"s":"VDAC","x":200,"y":0.95},{"s":"VDAC","x":210,"y":0.98},{"s":"VDAC","x":220,"y":0.95},{"s":"VDAC","x":230,"y":1.0},{"s":"VDAC","x":240,"y":0.96},{"s":"VDAC","x":250,"y":0.99},{"s":"VDAC","x":260,"y":0.95},{"s":"VDAC","x":270,"y":0.98},{"s":"VDAC","x":280,"y":0.96},{"s":"VDAC","x":290,"y":1.0},{"s":"VDAC","x":300,"y":0.97},
{"s":"MAVEN","x":2,"y":0},{"s":"MAVEN","x":10,"y":0.08},{"s":"MAVEN","x":20,"y":0.2},{"s":"MAVEN","x":30,"y":0.18},{"s":"MAVEN","x":40,"y":0.28},{"s":"MAVEN","x":50,"y":0.35},{"s":"MAVEN","x":60,"y":0.48},{"s":"MAVEN","x":70,"y":0.52},{"s":"MAVEN","x":80,"y":0.6},{"s":"MAVEN","x":90,"y":0.62},{"s":"MAVEN","x":100,"y":0.7},{"s":"MAVEN","x":110,"y":0.68},{"s":"MAVEN","x":120,"y":0.75},{"s":"MAVEN","x":130,"y":0.78},{"s":"MAVEN","x":140,"y":0.8},{"s":"MAVEN","x":150,"y":0.82},{"s":"MAVEN","x":160,"y":0.8},{"s":"MAVEN","x":170,"y":0.84},{"s":"MAVEN","x":180,"y":0.82},{"s":"MAVEN","x":190,"y":0.86},{"s":"MAVEN","x":200,"y":0.85},{"s":"MAVEN","x":210,"y":0.88},{"s":"MAVEN","x":220,"y":0.86},{"s":"MAVEN","x":230,"y":0.9},{"s":"MAVEN","x":240,"y":0.88},{"s":"MAVEN","x":250,"y":0.9},{"s":"MAVEN","x":260,"y":0.88},{"s":"MAVEN","x":270,"y":0.92},{"s":"MAVEN","x":280,"y":0.9},{"s":"MAVEN","x":290,"y":0.93},{"s":"MAVEN","x":300,"y":0.9},
{"s":"QMIX","x":2,"y":0.85},{"s":"QMIX","x":4,"y":0},{"s":"QMIX","x":7,"y":0.55},{"s":"QMIX","x":10,"y":0.45},{"s":"QMIX","x":14,"y":0.6},{"s":"QMIX","x":18,"y":0.4},{"s":"QMIX","x":22,"y":0.85},{"s":"QMIX","x":26,"y":0.05},{"s":"QMIX","x":30,"y":0.7},{"s":"QMIX","x":35,"y":0.6},{"s":"QMIX","x":40,"y":0.85},{"s":"QMIX","x":45,"y":0.7},{"s":"QMIX","x":50,"y":0.9},{"s":"QMIX","x":55,"y":0.75},{"s":"QMIX","x":60,"y":0.95},{"s":"QMIX","x":65,"y":0.85},{"s":"QMIX","x":70,"y":1.0},{"s":"QMIX","x":75,"y":0.9},{"s":"QMIX","x":78,"y":0.1},{"s":"QMIX","x":82,"y":0.95},{"s":"QMIX","x":90,"y":1.0},{"s":"QMIX","x":100,"y":0.92},{"s":"QMIX","x":110,"y":1.0},{"s":"QMIX","x":120,"y":0.9},{"s":"QMIX","x":130,"y":0.55},{"s":"QMIX","x":135,"y":0.95},{"s":"QMIX","x":140,"y":1.0},{"s":"QMIX","x":150,"y":0.95},{"s":"QMIX","x":160,"y":1.0},{"s":"QMIX","x":170,"y":0.92},{"s":"QMIX","x":180,"y":0.62},{"s":"QMIX","x":185,"y":0.98},{"s":"QMIX","x":190,"y":1.0},{"s":"QMIX","x":200,"y":0.95},{"s":"QMIX","x":210,"y":1.0},{"s":"QMIX","x":213,"y":0.35},{"s":"QMIX","x":216,"y":0.95},{"s":"QMIX","x":225,"y":1.0},{"s":"QMIX","x":235,"y":0.75},{"s":"QMIX","x":240,"y":0.98},{"s":"QMIX","x":250,"y":1.0},{"s":"QMIX","x":260,"y":0.95},{"s":"QMIX","x":265,"y":0.66},{"s":"QMIX","x":270,"y":0.98},{"s":"QMIX","x":280,"y":1.0},{"s":"QMIX","x":285,"y":0.82},{"s":"QMIX","x":290,"y":1.0},{"s":"QMIX","x":300,"y":0.95},
{"s":"LSF-SAC","x":2,"y":0.9},{"s":"LSF-SAC","x":5,"y":0.95},{"s":"LSF-SAC","x":8,"y":0.5},{"s":"LSF-SAC","x":12,"y":0.05},{"s":"LSF-SAC","x":16,"y":0},{"s":"LSF-SAC","x":20,"y":0.02},{"s":"LSF-SAC","x":24,"y":0},{"s":"LSF-SAC","x":28,"y":0.35},{"s":"LSF-SAC","x":32,"y":0.2},{"s":"LSF-SAC","x":36,"y":0.45},{"s":"LSF-SAC","x":40,"y":0.55},{"s":"LSF-SAC","x":45,"y":0.35},{"s":"LSF-SAC","x":50,"y":0.7},{"s":"LSF-SAC","x":55,"y":0.55},{"s":"LSF-SAC","x":60,"y":0.75},{"s":"LSF-SAC","x":65,"y":0.6},{"s":"LSF-SAC","x":70,"y":0.85},{"s":"LSF-SAC","x":75,"y":0.65},{"s":"LSF-SAC","x":80,"y":0.9},{"s":"LSF-SAC","x":85,"y":0.7},{"s":"LSF-SAC","x":90,"y":0.92},{"s":"LSF-SAC","x":95,"y":0.75},{"s":"LSF-SAC","x":100,"y":0.95},{"s":"LSF-SAC","x":110,"y":0.85},{"s":"LSF-SAC","x":120,"y":0.98},{"s":"LSF-SAC","x":130,"y":0.9},{"s":"LSF-SAC","x":140,"y":1.0},{"s":"LSF-SAC","x":150,"y":0.95},{"s":"LSF-SAC","x":160,"y":1.0},{"s":"LSF-SAC","x":170,"y":0.97},{"s":"LSF-SAC","x":180,"y":1.0},{"s":"LSF-SAC","x":190,"y":0.98},{"s":"LSF-SAC","x":200,"y":1.0},{"s":"LSF-SAC","x":210,"y":0.97},{"s":"LSF-SAC","x":220,"y":1.0},{"s":"LSF-SAC","x":230,"y":0.98},{"s":"LSF-SAC","x":240,"y":1.0},{"s":"LSF-SAC","x":250,"y":0.97},{"s":"LSF-SAC","x":260,"y":1.0},{"s":"LSF-SAC","x":270,"y":0.98},{"s":"LSF-SAC","x":280,"y":1.0},{"s":"LSF-SAC","x":290,"y":0.97},{"s":"LSF-SAC","x":300,"y":1.0}
],
"p6":[
{"s":"COMA","x":2,"y":0},{"s":"COMA","x":200,"y":0},{"s":"COMA","x":400,"y":0},
{"s":"VDAC","x":2,"y":0},{"s":"VDAC","x":30,"y":0},{"s":"VDAC","x":40,"y":0.01},{"s":"VDAC","x":50,"y":0},{"s":"VDAC","x":60,"y":0.01},{"s":"VDAC","x":70,"y":0.02},{"s":"VDAC","x":80,"y":0.01},{"s":"VDAC","x":90,"y":0.03},{"s":"VDAC","x":100,"y":0.02},{"s":"VDAC","x":110,"y":0.04},{"s":"VDAC","x":120,"y":0.02},{"s":"VDAC","x":130,"y":0.03},{"s":"VDAC","x":140,"y":0.04},{"s":"VDAC","x":150,"y":0.02},{"s":"VDAC","x":160,"y":0.05},{"s":"VDAC","x":170,"y":0.03},{"s":"VDAC","x":180,"y":0.07},{"s":"VDAC","x":190,"y":0.04},{"s":"VDAC","x":200,"y":0.06},{"s":"VDAC","x":210,"y":0.05},{"s":"VDAC","x":220,"y":0.08},{"s":"VDAC","x":230,"y":0.04},{"s":"VDAC","x":240,"y":0.07},{"s":"VDAC","x":250,"y":0.05},{"s":"VDAC","x":260,"y":0.09},{"s":"VDAC","x":270,"y":0.04},{"s":"VDAC","x":280,"y":0.07},{"s":"VDAC","x":290,"y":0.05},{"s":"VDAC","x":300,"y":0.08},{"s":"VDAC","x":310,"y":0.04},{"s":"VDAC","x":320,"y":0.06},{"s":"VDAC","x":330,"y":0.05},{"s":"VDAC","x":340,"y":0.08},{"s":"VDAC","x":350,"y":0.04},{"s":"VDAC","x":360,"y":0.07},{"s":"VDAC","x":370,"y":0.05},{"s":"VDAC","x":380,"y":0.09},{"s":"VDAC","x":390,"y":0.05},{"s":"VDAC","x":400,"y":0.06},
{"s":"MAVEN","x":2,"y":0},{"s":"MAVEN","x":200,"y":0},{"s":"MAVEN","x":375,"y":0},{"s":"MAVEN","x":380,"y":0.02},{"s":"MAVEN","x":385,"y":0},{"s":"MAVEN","x":400,"y":0},
{"s":"QMIX","x":2,"y":0},{"s":"QMIX","x":190,"y":0},{"s":"QMIX","x":200,"y":0.01},{"s":"QMIX","x":210,"y":0.02},{"s":"QMIX","x":220,"y":0.05},{"s":"QMIX","x":230,"y":0.08},{"s":"QMIX","x":240,"y":0.15},{"s":"QMIX","x":250,"y":0.12},{"s":"QMIX","x":260,"y":0.2},{"s":"QMIX","x":270,"y":0.14},{"s":"QMIX","x":280,"y":0.24},{"s":"QMIX","x":290,"y":0.2},{"s":"QMIX","x":300,"y":0.3},{"s":"QMIX","x":310,"y":0.22},{"s":"QMIX","x":320,"y":0.34},{"s":"QMIX","x":330,"y":0.26},{"s":"QMIX","x":340,"y":0.36},{"s":"QMIX","x":350,"y":0.3},{"s":"QMIX","x":360,"y":0.46},{"s":"QMIX","x":370,"y":0.35},{"s":"QMIX","x":380,"y":0.22},{"s":"QMIX","x":390,"y":0.3},{"s":"QMIX","x":400,"y":0.4},
{"s":"LSF-SAC","x":2,"y":0},{"s":"LSF-SAC","x":50,"y":0},{"s":"LSF-SAC","x":60,"y":0.02},{"s":"LSF-SAC","x":70,"y":0.01},{"s":"LSF-SAC","x":80,"y":0.05},{"s":"LSF-SAC","x":90,"y":0.02},{"s":"LSF-SAC","x":100,"y":0.07},{"s":"LSF-SAC","x":110,"y":0.04},{"s":"LSF-SAC","x":120,"y":0.12},{"s":"LSF-SAC","x":130,"y":0.08},{"s":"LSF-SAC","x":140,"y":0.13},{"s":"LSF-SAC","x":150,"y":0.09},{"s":"LSF-SAC","x":160,"y":0.16},{"s":"LSF-SAC","x":170,"y":0.12},{"s":"LSF-SAC","x":180,"y":0.2},{"s":"LSF-SAC","x":190,"y":0.24},{"s":"LSF-SAC","x":200,"y":0.3},{"s":"LSF-SAC","x":210,"y":0.4},{"s":"LSF-SAC","x":220,"y":0.32},{"s":"LSF-SAC","x":230,"y":0.45},{"s":"LSF-SAC","x":240,"y":0.38},{"s":"LSF-SAC","x":250,"y":0.52},{"s":"LSF-SAC","x":260,"y":0.42},{"s":"LSF-SAC","x":270,"y":0.5},{"s":"LSF-SAC","x":280,"y":0.45},{"s":"LSF-SAC","x":290,"y":0.52},{"s":"LSF-SAC","x":300,"y":0.44},{"s":"LSF-SAC","x":310,"y":0.48},{"s":"LSF-SAC","x":320,"y":0.55},{"s":"LSF-SAC","x":330,"y":0.6},{"s":"LSF-SAC","x":340,"y":0.52},{"s":"LSF-SAC","x":350,"y":0.58},{"s":"LSF-SAC","x":360,"y":0.52},{"s":"LSF-SAC","x":370,"y":0.62},{"s":"LSF-SAC","x":380,"y":0.58},{"s":"LSF-SAC","x":390,"y":0.68},{"s":"LSF-SAC","x":400,"y":0.5}
]
},
"concat":[
{"width":183,"height":120,"title":{"text":"1c3s5z","orient":"bottom","offset":1},
"encoding":{"x":{"field":"x","type":"quantitative","scale":{"domain":[2,400],"nice":false,"zero":false},"axis":{"values":[50,100,150,200,250,300,350,400]},"title":"Steps * 5000"},
"y":{"field":"y","type":"quantitative","scale":{"domain":[-0.05,1.05],"nice":false},"axis":{"values":[0,0.2,0.4,0.6,0.8,1.0],"format":".1f"},"title":"Median Win Rate"}},
"layer":[
{"data":{"name":"b1"},"mark":"area","encoding":{"y2":{"field":"hi"},"fill":{"field":"s","type":"nominal","scale":{"domain":["COMA","VDAC","MAVEN","QMIX","LSF-SAC"],"range":["#1f77b4","#ff7f0e","#2ca02c","#e41a1c","#6a3d9a"]},"legend":null}}},
{"data":{"name":"p1"},"mark":"line","encoding":{"color":{"field":"s","type":"nominal","sort":null,"scale":{"domain":["COMA","VDAC","MAVEN","QMIX","LSF-SAC"],"range":["#1f77b4","#ff7f0e","#2ca02c","#e41a1c","#6a3d9a"]},"legend":null}}}]},
{"width":183,"height":120,"title":{"text":"2s_vs_1sc","orient":"bottom","offset":1},
"encoding":{"x":{"field":"x","type":"quantitative","scale":{"domain":[2,300],"nice":false,"zero":false},"axis":{"values":[50,100,150,200,250,300]},"title":"Steps * 5000"},
"y":{"field":"y","type":"quantitative","scale":{"domain":[-0.05,1.05],"nice":false},"axis":{"values":[0,0.2,0.4,0.6,0.8,1.0],"format":".1f"},"title":"Median Win Rate"}},
"layer":[
{"data":{"name":"b2"},"mark":{"type":"area","opacity":0.08},"encoding":{"y2":{"field":"hi"},"fill":{"field":"s","type":"nominal","scale":{"domain":["COMA","VDAC","MAVEN","QMIX","LSF-SAC"],"range":["#1f77b4","#ff7f0e","#2ca02c","#e41a1c","#6a3d9a"]},"legend":null}}},
{"data":{"name":"p2"},"mark":"line","encoding":{"color":{"field":"s","type":"nominal","sort":null,"scale":{"domain":["COMA","VDAC","MAVEN","QMIX","LSF-SAC"],"range":["#1f77b4","#ff7f0e","#2ca02c","#e41a1c","#6a3d9a"]},"legend":null}}}]},
{"width":183,"height":120,"title":{"text":"3s5z","orient":"bottom","offset":1},
"encoding":{"x":{"field":"x","type":"quantitative","scale":{"domain":[2,400],"nice":false,"zero":false},"axis":{"values":[50,100,150,200,250,300,350,400]},"title":"Steps * 5000"},
"y":{"field":"y","type":"quantitative","scale":{"domain":[-0.05,1.05],"nice":false},"axis":{"values":[0,0.2,0.4,0.6,0.8,1.0],"format":".1f"},"title":"Median Win Rate"}},
"layer":[
{"data":{"name":"b3"},"mark":"area","encoding":{"y2":{"field":"hi"},"fill":{"field":"s","type":"nominal","scale":{"domain":["COMA","VDAC","MAVEN","QMIX","LSF-SAC"],"range":["#1f77b4","#ff7f0e","#2ca02c","#e41a1c","#6a3d9a"]},"legend":null}}},
{"data":{"name":"p3"},"mark":"line","encoding":{"color":{"field":"s","type":"nominal","sort":null,"scale":{"domain":["COMA","VDAC","MAVEN","QMIX","LSF-SAC"],"range":["#1f77b4","#ff7f0e","#2ca02c","#e41a1c","#6a3d9a"]},
"legend":{"orient":"top-left","offset":2,"title":null,"padding":3,"strokeColor":"#ccc","fillColor":"white","cornerRadius":2,"labelFontSize":6,"labelColor":"#333","rowPadding":0,"symbolType":"stroke","symbolSize":80,"symbolStrokeWidth":2,"labelOffset":6}}}}]},
{"width":183,"height":121,"title":{"text":"5m_vs_6m","orient":"bottom","offset":5},
"encoding":{"x":{"field":"x","type":"quantitative","scale":{"domain":[2,400],"nice":false,"zero":false},"axis":{"values":[50,100,150,200,250,300,350,400]},"title":"Steps * 5000"},
"y":{"field":"y","type":"quantitative","scale":{"domain":[-0.045,0.92],"nice":false},"axis":{"values":[0,0.2,0.4,0.6,0.8],"format":".1f"},"title":"Median Win Rate"}},
"layer":[
{"data":{"name":"b4"},"mark":"area","encoding":{"y2":{"field":"hi"},"fill":{"field":"s","type":"nominal","scale":{"domain":["COMA","VDAC","MAVEN","QMIX","LSF-SAC"],"range":["#1f77b4","#ff7f0e","#2ca02c","#e41a1c","#6a3d9a"]},"legend":null}}},
{"data":{"name":"p4"},"mark":"line","encoding":{"color":{"field":"s","type":"nominal","sort":null,"scale":{"domain":["COMA","VDAC","MAVEN","QMIX","LSF-SAC"],"range":["#1f77b4","#ff7f0e","#2ca02c","#e41a1c","#6a3d9a"]},"legend":null}}}]},
{"width":183,"height":121,"title":{"text":"8m","orient":"bottom","offset":5},"data":{"name":"p5"},"mark":"line",
"encoding":{"x":{"field":"x","type":"quantitative","scale":{"domain":[2,300],"nice":false,"zero":false},"axis":{"values":[50,100,150,200,250,300]},"title":"Steps * 5000"},
"y":{"field":"y","type":"quantitative","scale":{"domain":[-0.045,1.065],"nice":false},"axis":{"values":[0,0.2,0.4,0.6,0.8,1.0],"format":".1f"},"title":"Median Win Rate"},
"color":{"field":"s","type":"nominal","sort":null,"scale":{"domain":["COMA","VDAC","MAVEN","QMIX","LSF-SAC"],"range":["#1f77b4","#ff7f0e","#2ca02c","#e41a1c","#6a3d9a"]},"legend":null}}},
{"width":183,"height":121,"title":{"text":"MMM2","orient":"bottom","offset":5},
"encoding":{"x":{"field":"x","type":"quantitative","scale":{"domain":[2,400],"nice":false,"zero":false},"axis":{"values":[50,100,150,200,250,300,350,400]},"title":"Steps * 5000"},
"y":{"field":"y","type":"quantitative","scale":{"domain":[-0.045,0.86],"nice":false},"axis":{"values":[0,0.2,0.4,0.6,0.8],"format":".1f"},"title":"Median Win Rate"}},
"layer":[
{"data":{"name":"b6"},"mark":"area","encoding":{"y2":{"field":"hi"},"fill":{"field":"s","type":"nominal","scale":{"domain":["COMA","VDAC","MAVEN","QMIX","LSF-SAC"],"range":["#1f77b4","#ff7f0e","#2ca02c","#e41a1c","#6a3d9a"]},"legend":null}}},
{"data":{"name":"p6"},"mark":"line","encoding":{"color":{"field":"s","type":"nominal","sort":null,"scale":{"domain":["COMA","VDAC","MAVEN","QMIX","LSF-SAC"],"range":["#1f77b4","#ff7f0e","#2ca02c","#e41a1c","#6a3d9a"]},"legend":null}}}]}
]
}
